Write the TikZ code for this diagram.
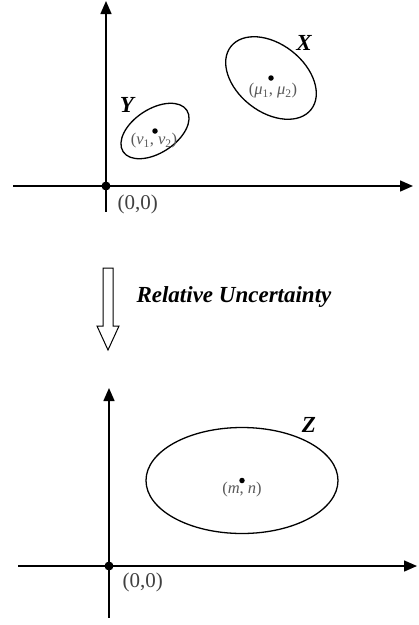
\documentclass[tikz,border=0pt]{standalone}
\usepackage{fontspec}
\setmainfont{Liberation Serif}
\usetikzlibrary{arrows.meta}
\begin{document}
\begin{tikzpicture}[x=1pt,y=-1pt,
  axis/.style={line width=1.5pt,-{Triangle[length=13pt,width=11pt]}},
  ell/.style={line width=1.3pt},
  odot/.style={circle,fill=black,inner sep=0pt,minimum size=9pt},
  cdot/.style={circle,fill=black,inner sep=0pt,minimum size=5.5pt},
  olab/.style={text=black!75,font=\fontsize{21}{21}\selectfont},
  clab/.style={text=black!65,font=\fontsize{16.5}{16.5}\selectfont},
  blab/.style={font=\fontsize{23}{23}\selectfont\bfseries\itshape}]
\useasboundingbox (0,0) rectangle (419,625);
% top diagram
\coordinate (o1) at (106,186);
\coordinate (xl1) at (13,186);
\coordinate (xr1) at (413,186);
\coordinate (yb1) at (106,212);
\coordinate (yt1) at (106,1);
\draw[line width=1.5pt] (o1) -- (xl1);
\draw[axis] (o1) -- (xr1);
\draw[line width=1.5pt] (o1) -- (yb1);
\draw[axis] (o1) -- (yt1);
\node[odot] (d1) at (o1) {};
\node[olab,anchor=west] (l1) at (114,204) {(0,0)};
% X ellipse
\coordinate (cx) at (271,78);
\draw[ell,rotate around={-38:(cx)}] (cx) ellipse [x radius=51, y radius=34];
\node[cdot] (dx) at (cx) {};
\node[clab] (lx) at (273,91) {(\textit{μ}\textsubscript{1}, \textit{μ}\textsubscript{2})};
\node[blab] (nx) at (304,43) {X};
% Y ellipse
\coordinate (cy) at (155,131);
\draw[ell,rotate around={33:(cy)}] (cy) ellipse [x radius=38, y radius=22];
\node[cdot] (dy) at (cy) {};
\node[clab] (ly) at (154,141) {(\textit{ν}\textsubscript{1}, \textit{ν}\textsubscript{2})};
\node[blab] (ny) at (127,105) {Y};
% hollow arrow
\draw[line width=1pt,line join=miter] (103,268) -- (113,268) -- (113,326) -- (119,326) -- (108,350) -- (97,326) -- (103,326) -- cycle;
\node[blab,anchor=west] (ru) at (133,297) {Relative Uncertainty};
% bottom diagram
\coordinate (o2) at (109,566);
\coordinate (xl2) at (18,566);
\coordinate (xr2) at (417,566);
\coordinate (yb2) at (109,618);
\coordinate (yt2) at (109,388);
\draw[line width=1.5pt] (o2) -- (xl2);
\draw[axis] (o2) -- (xr2);
\draw[line width=1.5pt] (o2) -- (yb2);
\draw[axis] (o2) -- (yt2);
\node[odot] (d2) at (o2) {};
\node[olab,anchor=west] (l2) at (119,582) {(0,0)};
% Z ellipse
\coordinate (cz) at (242,480.5);
\draw[ell] (cz) ellipse [x radius=96, y radius=53];
\node[cdot] (dz) at (cz) {};
\node[clab] (lz) at (242,490) {(\textit{m}, \textit{n})};
\node[blab] (nz) at (309,425) {Z};
\end{tikzpicture}
\end{document}
